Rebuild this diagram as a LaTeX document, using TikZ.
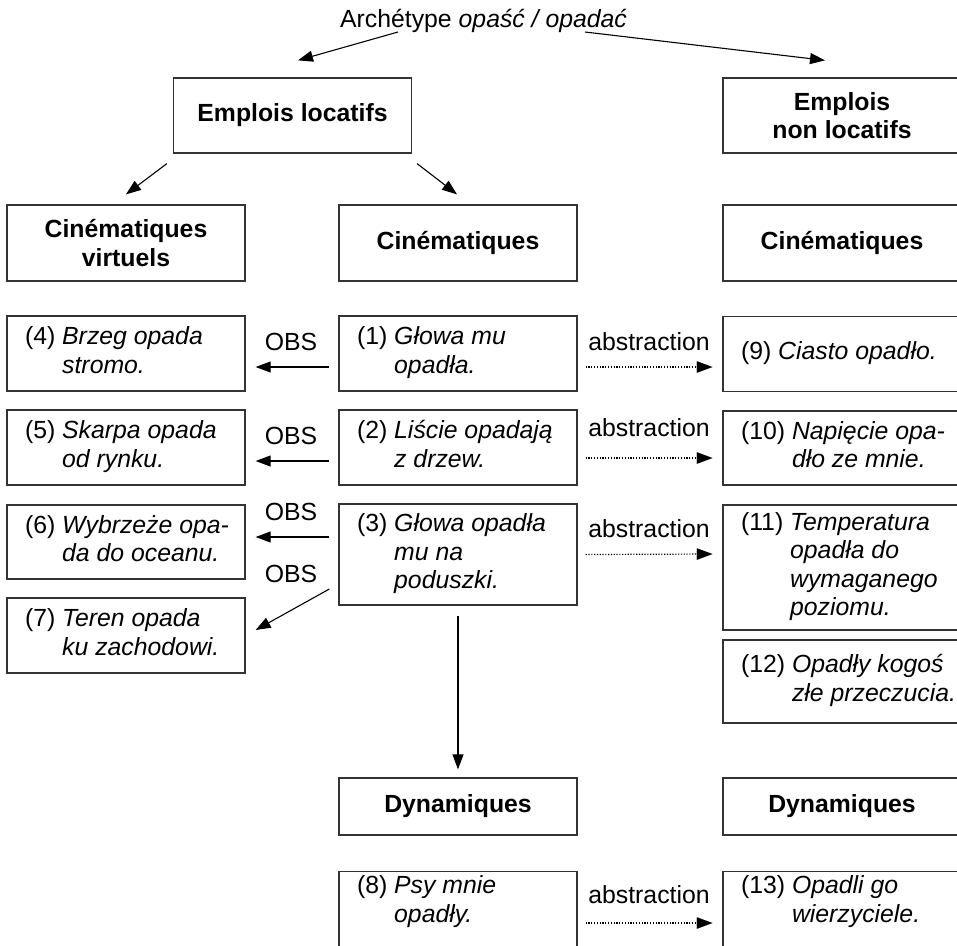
\documentclass[tikz,border=0pt]{standalone}
\usepackage{fontspec}
\setmainfont{Liberation Sans}
\usetikzlibrary{arrows.meta}

% example sentence: number, then italic lines with a hanging indent
\newcommand\exlines[1]{\makebox[202pt][l]{\begin{tabular}[t]{@{}l@{}}#1\end{tabular}}}
\newcommand\exind[1]{\hphantom{#1\ }}

\tikzset{
  txt/.style={font=\fontsize{24.8}{28.5}\selectfont},
  frame/.style={draw=black!80, line width=1.3pt, rectangle, inner xsep=18pt, inner ysep=0pt},
  headbox/.style={frame, txt, minimum width=238pt, align=center, font=\fontsize{24.8}{28.5}\selectfont\bfseries},
  exbox/.style={frame, txt, minimum width=238pt},
  lbl/.style={txt, inner sep=0pt, anchor=base},
  arr/.style={line width=1.1pt, -{Triangle[length=15pt,width=11pt]}},
  absarr/.style={line width=1.2pt, dash pattern=on 1.2pt off 1.6pt,
    -{Triangle[length=15.5pt,width=11.5pt,line width=0.01pt]}},
}

\begin{document}
\begin{tikzpicture}[x=1pt, y=-1pt]
\useasboundingbox (0,0) rectangle (957,945);

% title
\node[lbl] (arch) at (483.5,27) {Archétype \textit{opaść / opadać}};

% top level
\node[headbox, minimum height=75pt] (loc) at (292.5,115.5) {Emplois locatifs};
\node[headbox, minimum height=75pt] (nonloc) at (842,115.5) {Emplois\\non locatifs};

% second level headers
\node[headbox, minimum height=76pt] (virt) at (126,243) {Cinématiques\\virtuels};
\node[headbox, minimum height=76pt] (cin) at (458,243) {Cinématiques};
\node[headbox, minimum height=76pt] (cinR) at (842,243) {Cinématiques};

% left column: virtual kinematics
\node[exbox, minimum height=75pt] (ex4) at (126,353.5) {\exlines{(4)\ \textit{Brzeg opada}\\\exind{(4)}\textit{stromo.}}};
\node[exbox, minimum height=75pt] (ex5) at (126,447.5) {\exlines{(5)\ \textit{Skarpa opada}\\\exind{(5)}\textit{od rynku.}}};
\node[exbox, minimum height=74pt] (ex6) at (126,542) {\exlines{(6)\ \textit{Wybrzeże opa-}\\\exind{(6)}\textit{da do oceanu.}}};
\node[exbox, minimum height=75pt] (ex7) at (126,635.5) {\exlines{(7)\ \textit{Teren opada}\\\exind{(7)}\textit{ku zachodowi.}}};

% middle column: kinematics
\node[exbox, minimum height=75pt] (ex1) at (458,353.5) {\exlines{(1)\ \textit{Głowa mu}\\\exind{(1)}\textit{opadła.}}};
\node[exbox, minimum height=75pt] (ex2) at (458,447.5) {\exlines{(2)\ \textit{Liście opadają}\\\exind{(2)}\textit{z drzew.}}};
\node[exbox, minimum height=101pt] (ex3) at (458,554.5) {\exlines{(3)\ \textit{Głowa opadła}\\\exind{(3)}\textit{mu na}\\\exind{(3)}\textit{poduszki.}}};

% right column: non-locative kinematics
\node[exbox, minimum height=75pt] (ex9) at (842,354) {\exlines{(9)\ \textit{Ciasto opadło.}}};
\node[exbox, minimum height=74pt] (ex10) at (842,448) {\exlines{(10)\ \textit{Napięcie opa-}\\\exind{(10)}\textit{dło ze mnie.}}};
\node[exbox, minimum height=125pt] (ex11) at (842,567.5) {\exlines{(11)\ \textit{Temperatura}\\\exind{(11)}\textit{opadła do}\\\exind{(11)}\textit{wymaganego}\\\exind{(11)}\textit{poziomu.}}};
\node[exbox, minimum height=83pt] (ex12) at (842,681.5) {\exlines{(12)\ \textit{Opadły kogoś}\\\exind{(12)}\textit{złe przeczucia.}}};

% dynamics
\node[headbox, minimum height=57pt] (dyn) at (458,806.5) {Dynamiques};
\node[headbox, minimum height=57pt] (dynR) at (842,806.5) {Dynamiques};
\node[exbox, anchor=north, text height=19.6pt, text depth=80pt, inner ysep=2.4pt] (ex8) at (458,871) {\exlines{(8)\ \textit{Psy mnie}\\\exind{(8)}\textit{opadły.}}};
\node[exbox, anchor=north, text height=19.6pt, text depth=80pt, inner ysep=2.4pt] (ex13) at (842,871) {\exlines{(13)\ \textit{Opadli go}\\\exind{(13)}\textit{wierzyciele.}}};

% arrows from the archetype
\draw[arr] ([shift={(-85.5,5)}]arch.base) -- ([shift={(5.5,-17)}]loc.north);
\draw[arr] ([shift={(101.5,5)}]arch.base) -- ([shift={(-17,-17)}]nonloc.north);

% locative uses split
\draw[arr] ([shift={(-6,10)}]loc.south west) -- ([shift={(0,-10)}]virt.north);
\draw[arr] ([shift={(5,10)}]loc.south east) -- ([shift={(-1,-10)}]cin.north);

% OBS arrows
\node[lbl] (obs1) at (291,350) {OBS};
\node[lbl] (obs2) at (291,444) {OBS};
\node[lbl] (obs3) at (291,520) {OBS};
\node[lbl] (obs4) at (291,582) {OBS};
\draw[arr] ([shift={(-9,13.5)}]ex1.west) -- ([shift={(10,13.5)}]ex4.east);
\draw[arr] ([shift={(-9,13.5)}]ex2.west) -- ([shift={(10,13.5)}]ex5.east);
\draw[arr] ([shift={(-9,-17.5)}]ex3.west) -- ([shift={(10,-5)}]ex6.east);
\draw[arr] ([shift={(-9,34.5)}]ex3.west) -- ([shift={(10,-5.5)}]ex7.east);

% abstraction arrows
\node[lbl] (abs1) at (649,350) {abstraction};
\node[lbl] (abs2) at (649,436) {abstraction};
\node[lbl] (abs3) at (649,537) {abstraction};
\node[lbl] (abs8) at (649,903) {abstraction};
\draw[absarr] ([shift={(8,13.5)}]ex1.east) -- ([shift={(-10,13)}]ex9.west);
\draw[absarr] ([shift={(8,10.5)}]ex2.east) -- ([shift={(-10,10)}]ex10.west);
\draw[absarr] ([shift={(8,0)}]ex3.east) -- ([shift={(-10,-13.5)}]ex11.west);
\draw[absarr] ([shift={(8,52)}]ex8.north east) -- ([shift={(-10,52)}]ex13.north west);

% kinematic to dynamic
\draw[arr] ([shift={(0,10)}]ex3.south) -- ([shift={(0,-8)}]dyn.north);
\end{tikzpicture}
\end{document}
